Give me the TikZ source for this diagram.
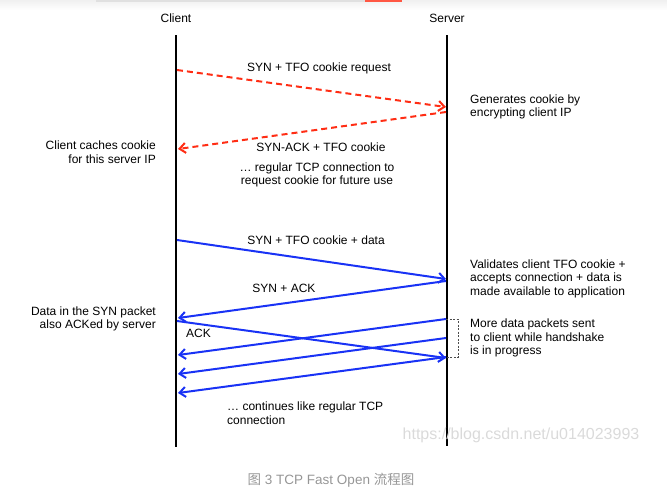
\documentclass[tikz,border=0pt]{standalone}
\usepackage{fontspec}
\setmainfont{Liberation Sans}
\newfontfamily\cjk{Noto Sans CJK SC}
\usetikzlibrary{arrows.meta}
\definecolor{tfored}{RGB}{255,45,20}
\definecolor{tfoblue}{RGB}{25,50,245}
\definecolor{wmgray}{RGB}{218,218,218}
\definecolor{capgray}{RGB}{150,150,150}
\tikzset{
  lbl/.style={font=\fontsize{12}{13.6}\selectfont, inner sep=0pt, text=black},
  lifeline/.style={draw=black, line width=2pt},
  msgred/.style={draw=tfored, line width=2pt, dash pattern=on 6pt off 4pt,
    -{Straight Barb[length=6pt,width=10pt,line width=2pt]}},
  msgblue/.style={draw=tfoblue, line width=2pt,
    -{Straight Barb[length=6pt,width=10pt,line width=2pt]}},
  bracket/.style={draw=black!70, line width=0.7pt, dash pattern=on 2pt off 1.5pt}
}
\begin{document}
\begin{tikzpicture}[x=1pt,y=-1pt]
\useasboundingbox (0,0) rectangle (667,493);
% top page strip
\shade[top color=black!6, bottom color=white] (0,0) rectangle (667,10);
\draw[black!12, line width=1.5pt] (96,0.75) -- (365,0.75);
\draw[tfored!80, line width=1.5pt] (365,0.75) -- (402,0.75);

% lifelines
\node[lbl] (client) at (176,18) {Client};
\node[lbl] (server) at (447,18) {Server};
\coordinate (ctop) at (176,35);
\coordinate (cbot) at (176,447);
\coordinate (stop) at (447,35);
\coordinate (sbot) at (447,446);
\draw[lifeline] (ctop) -- (cbot);
\draw[lifeline] (stop) -- (sbot);

% endpoints
\coordinate (c1) at (177,70);   \coordinate (s1) at (446,107);
\coordinate (s2) at (446,112);  \coordinate (c2) at (178,149);
\coordinate (c3) at (177,240);  \coordinate (s3) at (446,279);
\coordinate (s4) at (446,281);  \coordinate (c4) at (178,318);
\coordinate (c5) at (177,321);  \coordinate (s5) at (446,358);
\coordinate (s6) at (446,319);  \coordinate (c6) at (178,355);
\coordinate (s7) at (446,338);  \coordinate (c7) at (178,374);
\coordinate (s8) at (446,357);  \coordinate (c8) at (178,393);

% red cookie request exchange
\draw[msgred] (c1) -- (s1);
\draw[msgred] (s2) -- (c2);
\node[lbl] (l1) at (319,68) {SYN + TFO cookie request};
\node[lbl] (l2) at (321,147) {SYN-ACK + TFO cookie};
\node[lbl, anchor=west, align=left] (gen) at (470,107) {Generates cookie by\\encrypting client IP};
\node[lbl, anchor=east, align=right] (cache) at (156,152) {Client caches cookie\\for this server IP};
\node[lbl, align=center] (reg) at (317,175) {… regular TCP connection to\\request cookie for future use};

% blue fast open exchange
\draw[msgblue] (c3) -- (s3);
\draw[msgblue] (s4) -- (c4);
\draw[msgblue] (c5) -- (s5);
\draw[msgblue] (s6) -- (c6);
\draw[msgblue] (s7) -- (c7);
\draw[msgblue] (s8) -- (c8);
\node[lbl] (l3) at (316,240) {SYN + TFO cookie + data};
\node[lbl] (l4) at (284,288) {SYN + ACK};
\node[lbl, anchor=west] (l5) at (186,333) {ACK};
\node[lbl, anchor=west, align=left] (val) at (470,278.5) {Validates client TFO cookie +\\accepts connection + data is\\made available to application};
\node[lbl, anchor=east, align=right] (dat) at (156,319) {Data in the SYN packet\\also ACKed by server};
\node[lbl, anchor=west, align=left] (more) at (470,338) {More data packets sent\\to client while handshake\\is in progress};
\node[lbl, anchor=west, align=left] (cont) at (227,413.5) {… continues like regular TCP\\connection};

% bracket
\coordinate (b1) at (458,319);
\coordinate (b2) at (458,357);
\draw[bracket] (s6) -- (b1) -- (b2) -- (s8);

% watermark and caption
\node[font=\fontsize{16}{18}\selectfont, text=wmgray, inner sep=0pt] (wm) at (521,435) {https://blog.csdn.net/u014023993};
\node[font=\fontsize{13.5}{15}\selectfont, text=capgray, inner sep=0pt] (cap) at (331,480) {{\cjk 图} 3 TCP Fast Open {\cjk 流程图}};
\end{tikzpicture}
\end{document}
